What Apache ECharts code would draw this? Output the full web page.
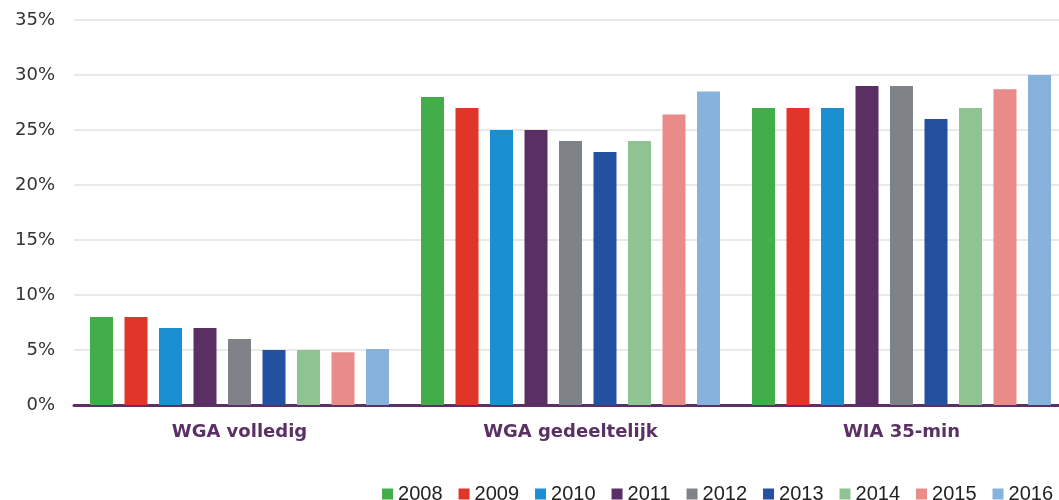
<!DOCTYPE html>
<html>
<head>
<meta charset="utf-8">
<script src="https://cdn.jsdelivr.net/npm/echarts@6/dist/echarts.min.js"></script>
<style>
  html, body { margin: 0; padding: 0; background: #fff; }
  #chart { width: 1059px; height: 500px; }
</style>
</head>
<body>
<div id="chart"></div>
<script>
// categorieën en jaren
const categories = ['WGA volledig', 'WGA gedeeltelijk', 'WIA 35-min'];
const years = ['2008', '2009', '2010', '2011', '2012', '2013', '2014', '2015', '2016'];
const yearColors = ['#43ad4a', '#e2352a', '#1a8fd1', '#5a3064', '#7f8287', '#23509f', '#8fc391', '#e98b89', '#87b2dc'];

// percentages per jaar (volledig, gedeeltelijk, 35-min)
const v2008 = [8, 28, 27];
const v2009 = [8, 27, 27];
const v2010 = [7, 25, 27];
const v2011 = [7, 25, 29];
const v2012 = [6, 24, 29];
const v2013 = [5, 23, 26];
const v2014 = [5, 24, 27];
const v2015 = [4.8, 26.4, 28.7];
const v2016 = [5.1, 28.5, 30];
const values = [v2008, v2009, v2010, v2011, v2012, v2013, v2014, v2015, v2016];

const yTicks = [0, 5, 10, 15, 20, 25, 30, 35];

const chart = echarts.init(document.getElementById('chart'));

const option = {
  animation: false,
  legend: {
    data: years,
    right: 1,
    top: 479,
    itemWidth: 11,
    itemHeight: 11,
    itemGap: 16,
    icon: 'rect',
    textStyle: { fontFamily: 'Liberation Sans', fontSize: 20, color: '#222' }
  },
  // grid loopt iets voorbij de rechterrand, net als het origineel
  grid: { left: 74, width: 993, top: 20, bottom: 95, outerBoundsMode: 'none', containLabel: false },
  xAxis: {
    type: 'category',
    data: categories,
    axisTick: { show: false },
    axisLine: { lineStyle: { color: '#5a3065', width: 3 } },
    axisLabel: {
      margin: 18,
      fontFamily: 'DejaVu Sans',
      fontWeight: 'bold',
      fontSize: 18,
      color: '#5a3065'
    }
  },
  yAxis: {
    type: 'value',
    min: yTicks[0],
    max: yTicks[yTicks.length - 1],
    interval: 5,
    axisLine: { show: false },
    axisTick: { show: false },
    splitLine: { lineStyle: { color: '#e2e2e2', width: 1.5 } },
    axisLabel: {
      margin: 19,
      fontFamily: 'DejaVu Sans',
      fontSize: 18,
      color: '#333',
      formatter: '{value}%'
    }
  },
  series: years.map((y, i) => ({
    name: y,
    type: 'bar',
    data: values[i],
    barWidth: 23,
    barGap: '50%',
    itemStyle: { color: yearColors[i] }
  }))
};

chart.setOption(option);
</script>
</body>
</html>
